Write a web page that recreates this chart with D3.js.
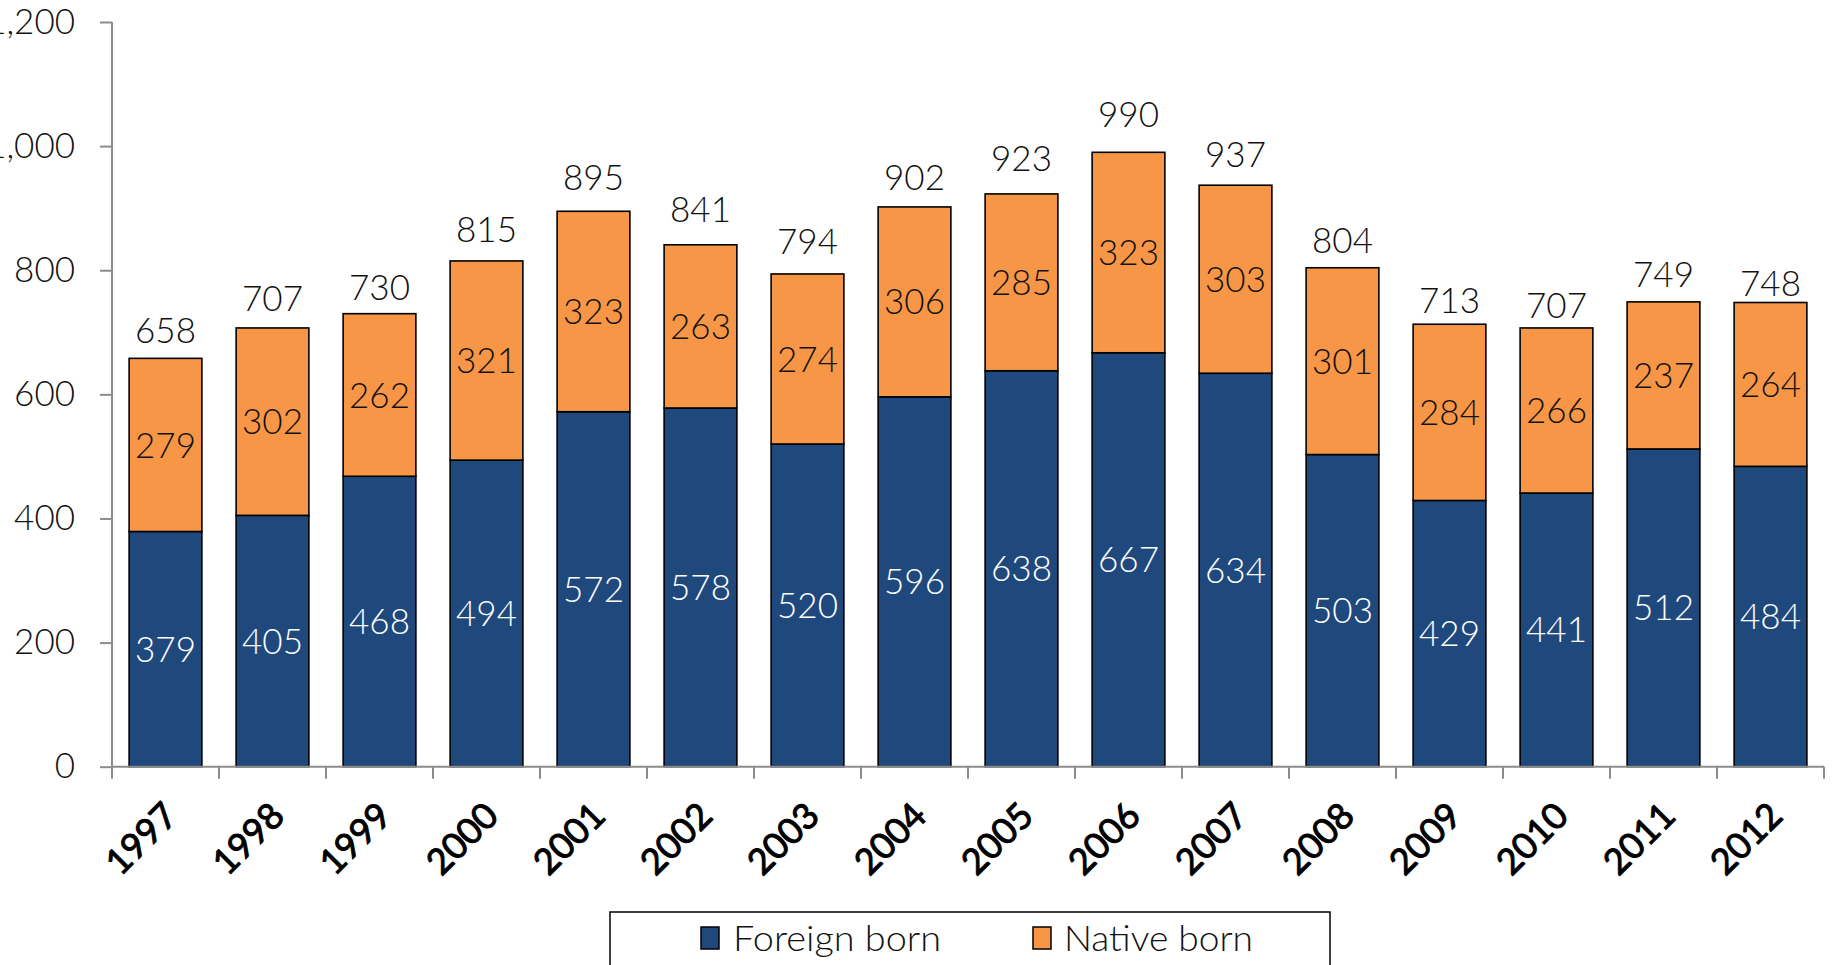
<!DOCTYPE html>
<html>
<head>
<meta charset="utf-8">
<script src="https://cdn.jsdelivr.net/npm/d3@7"></script>
<style>
  body { margin: 0; background: #fff; }
  svg { display: block; }
</style>
</head>
<body>
<div id="chart"></div>
<script>
const years = ['1997', '1998', '1999', '2000', '2001', '2002', '2003', '2004',
  '2005', '2006', '2007', '2008', '2009', '2010', '2011', '2012']
const foreignBorn = [379, 405, 468, 494, 572, 578, 520, 596, 638, 667, 634, 503, 429, 441, 512, 484]
const nativeBorn = [279, 302, 262, 321, 323, 263, 274, 306, 285, 323, 303, 301, 284, 266, 237, 264]
const yTicks = [0, 200, 400, 600, 800, 1000, 1200]
const seriesNames = ['Foreign born', 'Native born']
const colors = ['#1F497D', '#F79646']

// total labels were placed by hand in the original, gap above bar in px
const totalGap = [15, 17, 14, 19, 21, 22.6, 20, 16.7, 22.6, 25, 18.3, 14.6, 11, 10.3, 15, 7]

const width = 1833
const height = 965
const font = 'Lato, "Open Sans", sans-serif'

const data = years.map((y, i) => ({ year: y, 'Foreign born': foreignBorn[i], 'Native born': nativeBorn[i] }))

const svg = d3.select('#chart')
  .append('svg')
  .attr('width', width)
  .attr('height', height)
  .attr('font-family', font)

const xScale = d3.scaleBand()
  .domain(years)
  .range([112, 1824])
  .paddingInner(0.32)
  .paddingOuter(0.16)

const yScale = d3.scaleLinear()
  .domain([0, 1200])
  .range([766.7, 22])

const colorScale = d3.scaleOrdinal().domain(seriesNames).range(colors)

// y axis
const yAxis = d3.axisLeft(yScale)
  .tickValues(yTicks)
  .tickSize(12)
  .tickPadding(25)
  .tickFormat(d3.format(','))

svg.append('g')
  .attr('transform', 'translate(112, 0)')
  .call(yAxis)
  .call((g) => g.select('.domain').attr('stroke', '#8c8c8c').attr('stroke-width', 2).attr('d', `M0,${yScale(1200)}V${yScale(0)}`))
  .call((g) => g.selectAll('.tick line').attr('stroke', '#8c8c8c').attr('stroke-width', 2))
  .call((g) => g.selectAll('.tick text')
    .attr('font-family', font)
    .attr('font-size', 35)
    .attr('font-weight', 300)
    .attr('fill', '#111'))

// stacked bars
const stack = d3.stack().keys(seriesNames)
const series = stack(data)

const groups = svg.append('g')
  .selectAll('g')
  .data(series)
  .join('g')
  .attr('fill', (d) => colorScale(d.key))

groups.selectAll('rect')
  .data((d) => d)
  .join('rect')
  .attr('x', (d) => xScale(d.data.year))
  .attr('y', (d) => yScale(d[1]))
  .attr('width', xScale.bandwidth())
  .attr('height', (d) => yScale(d[0]) - yScale(d[1]))
  .attr('stroke', '#000')
  .attr('stroke-width', 1.6)

// segment labels
groups.selectAll('text')
  .data((d) => d.map((v) => ({ v, key: d.key })))
  .join('text')
  .attr('x', (d) => xScale(d.v.data.year) + xScale.bandwidth() / 2)
  .attr('y', (d) => (yScale(d.v[0]) + yScale(d.v[1])) / 2)
  .attr('dy', '0.36em')
  .attr('text-anchor', 'middle')
  .attr('font-size', 35)
  .attr('font-weight', 300)
  .attr('fill', (d) => d.key === 'Foreign born' ? '#fff' : '#111')
  .text((d) => d.v.data[d.key])

// totals
svg.append('g')
  .selectAll('text')
  .data(data)
  .join('text')
  .attr('x', (d) => xScale(d.year) + xScale.bandwidth() / 2)
  .attr('y', (d, i) => yScale(d['Foreign born'] + d['Native born']) - totalGap[i])
  .attr('text-anchor', 'middle')
  .attr('font-size', 35)
  .attr('font-weight', 300)
  .attr('fill', '#111')
  .text((d) => d['Foreign born'] + d['Native born'])

// x axis
const xAxisG = svg.append('g')
xAxisG.append('line')
  .attr('x1', xScale.range()[0])
  .attr('x2', xScale.range()[1])
  .attr('y1', yScale(0))
  .attr('y2', yScale(0))
  .attr('stroke', '#8c8c8c')
  .attr('stroke-width', 2)

const boundaries = years.map((y) => xScale(y) - xScale.step() * xScale.paddingOuter())
boundaries.push(xScale.range()[1])
xAxisG.selectAll('.xtick')
  .data(boundaries)
  .join('line')
  .attr('class', 'xtick')
  .attr('x1', (d) => d)
  .attr('x2', (d) => d)
  .attr('y1', yScale(0))
  .attr('y2', yScale(0) + 12)
  .attr('stroke', '#8c8c8c')
  .attr('stroke-width', 2)

xAxisG.selectAll('.xlabel')
  .data(years)
  .join('text')
  .attr('class', 'xlabel')
  .attr('transform', (d) => `translate(${xScale(d) + xScale.bandwidth() / 2 + 14}, 818) rotate(-45)`)
  .attr('text-anchor', 'end')
  .attr('font-size', 36)
  .attr('font-weight', 400)
  .attr('fill', '#000')
  .attr('stroke', '#000')
  .attr('stroke-width', 1)
  .text((d) => d)

// legend
const legend = svg.append('g')
legend.append('rect')
  .attr('x', 610)
  .attr('y', 912)
  .attr('width', 720)
  .attr('height', 80)
  .attr('fill', '#fff')
  .attr('stroke', '#000')
  .attr('stroke-width', 1.5)

const legendPos = [
  { sx: 701, tx: 733, tw: 208 },
  { sx: 1033, tx: 1064, tw: 189 }
]
const legendItems = legend.selectAll('.item')
  .data(seriesNames)
  .join('g')
  .attr('class', 'item')

legendItems.append('rect')
  .attr('x', (d, i) => legendPos[i].sx)
  .attr('y', 927)
  .attr('width', 18)
  .attr('height', 22)
  .attr('fill', colorScale)
  .attr('stroke', '#000')
  .attr('stroke-width', 1.5)

legendItems.append('text')
  .attr('x', (d, i) => legendPos[i].tx)
  .attr('y', 951)
  .attr('font-size', 35)
  .attr('font-weight', 300)
  .attr('textLength', (d, i) => legendPos[i].tw)
  .attr('lengthAdjust', 'spacingAndGlyphs')
  .attr('fill', '#111')
  .text((d) => d)
</script>
</body>
</html>
